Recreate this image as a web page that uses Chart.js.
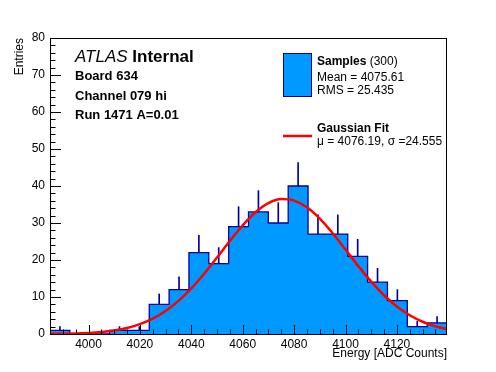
<!DOCTYPE html>
<html>
<head>
<meta charset="utf-8">
<script src="https://cdn.jsdelivr.net/npm/chart.js@4"></script>
<style>
    body { margin: 0; background: #fff; }
    #wrap { width: 496px; height: 372px; }
</style>
</head>
<body>
<div id="wrap"><canvas id="histChart" width="496" height="372"></canvas></div>
<script>
// HISTOGRAM (20 bins)
const histMin = 3985;
const histMax = 4139.5;
const counts = [1, 0, 0, 1, 1, 8, 12, 22, 19, 29, 33, 30, 40, 27, 27, 21, 14, 9, 2, 3];

// GAUSSIAN FIT
const fitX = [3985, 3990, 3995, 4000, 4005, 4010, 4015, 4020, 4025, 4030, 4035, 4040,
              4045, 4050, 4055, 4060, 4065, 4070, 4075, 4080, 4085, 4090, 4095, 4100,
              4105, 4110, 4115, 4120, 4125, 4130, 4135, 4139.5];
const fitY = [0.04, 0.08, 0.15, 0.30, 0.55, 0.97, 1.64, 2.66, 4.15, 6.22, 8.94, 12.32,
              16.29, 20.67, 25.15, 29.37, 32.90, 35.36, 36.46, 36.06, 34.23, 31.16, 27.22, 22.81,
              18.34, 14.15, 10.47, 7.43, 5.06, 3.31, 2.07, 1.31];

// AXIS TICKS
const xTicks = [4000, 4020, 4040, 4060, 4080, 4100, 4120];
const yTicks = [0, 10, 20, 30, 40, 50, 60, 70, 80];

const FILL = '#0099ff';
const LINE = '#000099';
const FONT = '"Liberation Sans", Arial, sans-serif';
Chart.defaults.font.family = FONT;
Chart.defaults.color = '#000';

const binW = (histMax - histMin) / counts.length;

// step outline: left edges + closing right edge
const steps = counts.map((c, i) => ({ x: histMin + i * binW, y: c }));
steps.push({ x: histMax, y: counts[counts.length - 1] });

// error bars, only the part above the bin content shows
const errBars = counts
    .map((c, i) => ({ x: histMin + (i + 0.5) * binW, y: [c, c + Math.sqrt(c)] }))
    .filter(p => p.y[0] > 0);

// FRAME + INWARD TICKS
const frame = {
    id: 'frame',
    afterDatasetsDraw(chart) {
        const { ctx, chartArea: a, scales: { x, y } } = chart;
        ctx.save();
        ctx.strokeStyle = '#000';
        ctx.lineWidth = 1;
        ctx.beginPath();
        for (let v = 3985; v <= histMax; v += 5) {
            const px = Math.round(x.getPixelForValue(v)) + 0.5;
            const len = v % 20 === 0 ? 9 : 4.5;
            ctx.moveTo(px, a.bottom);
            ctx.lineTo(px, a.bottom - len);
        }
        for (let v = 0; v <= 80; v += 2) {
            const py = Math.round(y.getPixelForValue(v)) + 0.5;
            const len = v % 10 === 0 ? 11 : 5.5;
            ctx.moveTo(a.left, py);
            ctx.lineTo(a.left + len, py);
        }
        ctx.stroke();
        ctx.strokeRect(Math.round(a.left) + 0.5, Math.round(a.top) + 0.5,
                       Math.round(a.width) - 1, Math.round(a.height));
        ctx.restore();
    }
};

// ATLAS LABEL + LEGEND
const labels = {
    id: 'labels',
    afterDraw(chart) {
        const ctx = chart.ctx;
        ctx.save();
        ctx.fillStyle = '#000';
        ctx.textBaseline = 'middle';

        ctx.font = 'italic 17px ' + FONT;
        ctx.fillText('ATLAS', 75, 57);
        const w = ctx.measureText('ATLAS ').width;
        ctx.font = 'bold 17px ' + FONT;
        ctx.fillText('Internal', 75 + w, 57);

        ctx.font = 'bold 13px ' + FONT;
        ctx.fillText('Board 634', 75, 76);
        ctx.fillText('Channel 079 hi', 75, 96);
        ctx.fillText('Run 1471 A=0.01', 75, 115);

        // legend: samples
        ctx.fillStyle = FILL;
        ctx.fillRect(283.5, 53.5, 28, 43);
        ctx.strokeStyle = LINE;
        ctx.lineWidth = 1;
        ctx.strokeRect(283.5, 53.5, 28, 43);

        ctx.fillStyle = '#000';
        ctx.font = 'bold 12px ' + FONT;
        ctx.fillText('Samples', 317, 62);
        const sw = ctx.measureText('Samples').width;
        ctx.font = '12px ' + FONT;
        ctx.fillText(' (300)', 317 + sw, 62);
        ctx.fillText('Mean = 4075.61', 317, 78);
        ctx.fillText('RMS = 25.435', 317, 91);

        // legend: fit
        ctx.strokeStyle = '#ff0000';
        ctx.lineWidth = 2.5;
        ctx.beginPath();
        ctx.moveTo(283, 136);
        ctx.lineTo(312, 136);
        ctx.stroke();

        ctx.font = 'bold 12px ' + FONT;
        ctx.fillText('Gaussian Fit', 317, 129);
        ctx.font = '12px ' + FONT;
        ctx.fillText('\u03bc = 4076.19, \u03c3 =24.555', 317, 142);
        ctx.restore();
    }
};

new Chart(document.getElementById('histChart'), {
    type: 'line',
    data: {
        datasets: [{
            type: 'line',
            label: 'Gaussian Fit',
            data: fitX.map((v, i) => ({ x: v, y: fitY[i] })),
            borderColor: '#ff0000',
            borderWidth: 2.5,
            pointRadius: 0,
            fill: false,
            cubicInterpolationMode: 'monotone',
            order: 1
        }, {
            type: 'bar',
            label: 'Errors',
            data: errBars,
            backgroundColor: LINE,
            barThickness: 1,
            order: 2
        }, {
            type: 'line',
            label: 'Samples',
            data: steps,
            stepped: 'before',
            fill: 'origin',
            backgroundColor: FILL,
            borderColor: LINE,
            borderWidth: 1.3,
            pointRadius: 0,
            order: 3
        }]
    },
    options: {
        responsive: false,
        animation: false,
        devicePixelRatio: 1,
        layout: { padding: { top: 38, right: 49, left: 0, bottom: 0 } },
        plugins: { legend: { display: false }, tooltip: { enabled: false } },
        scales: {
            x: {
                type: 'linear',
                min: histMin,
                max: histMax,
                offset: false,
                afterFit: s => { s.height = 38; },
                afterBuildTicks: s => { s.ticks = xTicks.map(v => ({ value: v })); },
                grid: { display: false, drawTicks: false, offset: false },
                border: { display: false },
                ticks: { padding: 3, font: { size: 12 }, maxRotation: 0, autoSkip: false,
                         callback: v => String(v) },
                title: { display: true, text: 'Energy [ADC Counts]', align: 'end',
                         font: { size: 12 }, padding: { top: 0, bottom: 11 } }
            },
            y: {
                type: 'linear',
                min: 0,
                max: 80,
                afterFit: s => { s.width = 50; },
                afterBuildTicks: s => { s.ticks = yTicks.map(v => ({ value: v })); },
                grid: { display: false, drawTicks: false },
                border: { display: false },
                ticks: { padding: 5, font: { size: 12 }, callback: v => String(v) },
                title: { display: true, text: 'Entries', align: 'end',
                         font: { size: 12 }, padding: { top: 12, bottom: 0 } }
            }
        }
    },
    plugins: [frame, labels]
});
</script>
</body>
</html>
